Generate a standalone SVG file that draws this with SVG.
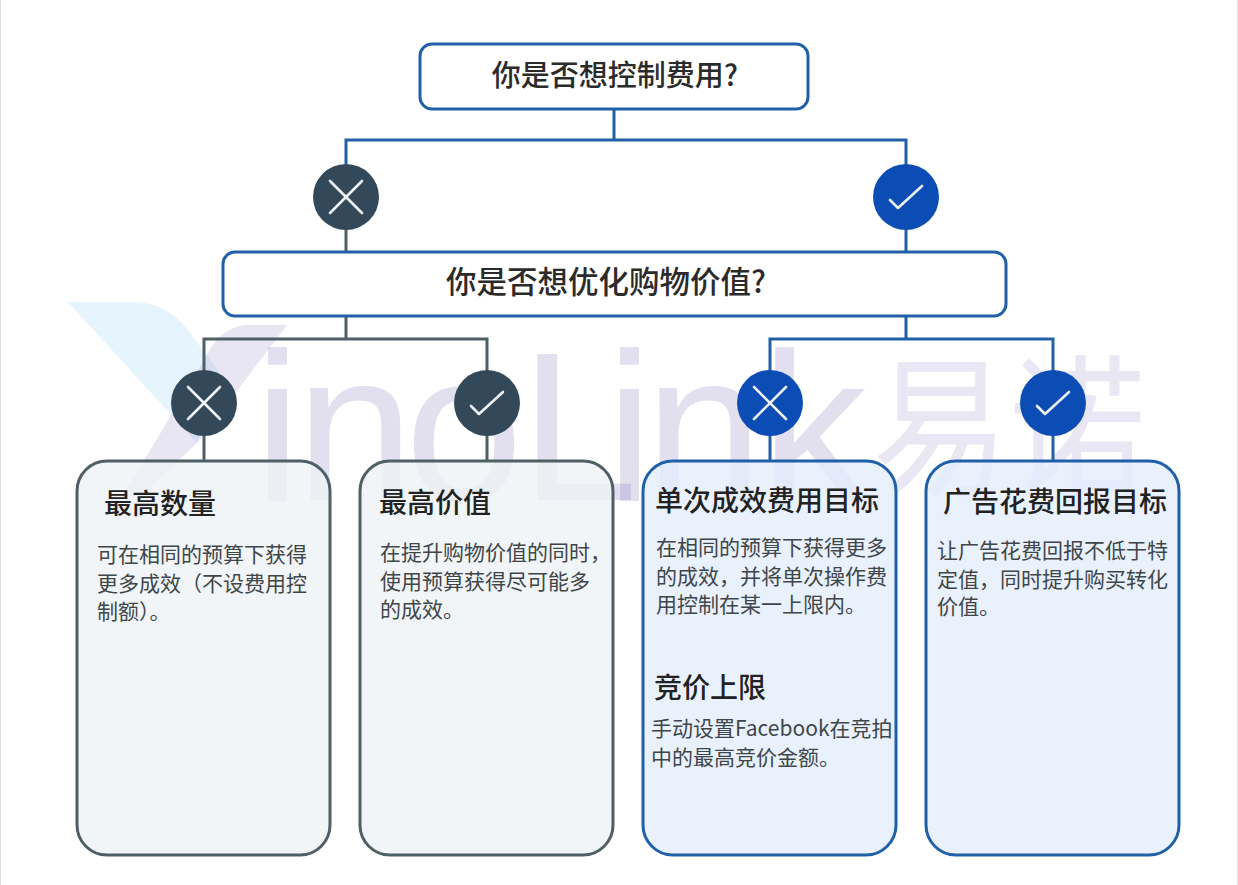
<svg xmlns="http://www.w3.org/2000/svg" width="1238" height="885" viewBox="0 0 1238 885">
<style>
text{font-family:"Noto Sans CJK SC","Liberation Sans",sans-serif}
.q{fill:#fff;stroke:#2060a8;stroke-width:3}
.t{font-weight:500;fill:#2b2b2b;text-anchor:middle}
.h{font-size:28px;font-weight:500;fill:#222}
.b{font-size:21px;fill:#3f464a}
.gc{fill:#eef2f5;fill-opacity:.8;stroke:#4f5f66;stroke-width:3}
.bc{fill:#e4eefd;fill-opacity:.8;stroke:#2060a8;stroke-width:3}
.lb{fill:none;stroke:#2060a8;stroke-width:3}
.lg{fill:none;stroke:#4f5f66;stroke-width:3}
.dg{fill:#33495a}
.db{fill:#0b4db5}
.i{fill:none;stroke:#eef3f8;stroke-width:2.6;stroke-linecap:round;stroke-linejoin:round}
.wm{fill:#7a6cb8;fill-opacity:.22}
</style>
<rect width="1238" height="885" fill="#fff"/>
<rect x="0" y="0" width="1" height="885" fill="#dcdcdc"/>
<rect x="1237" y="0" width="1" height="885" fill="#dcdcdc"/>
<g id="watermark">
<path d="M68 302H135Q165 302 188 330L225 380L197 443Z" fill="#e6f5fd"/>
<path d="M287 325H245Q218 328 203 362L122 497H140L197 443Z" fill="#7a6cb8" fill-opacity=".17"/>
<text class="wm" y="500" font-size="212" x="254 296 405 520 606 645 761" style="font-family:'Liberation Sans',sans-serif">inoLink</text>
<text class="wm" transform="translate(872,484) scale(1,1.12)" font-size="137" fill-opacity=".16" style="fill-opacity:.16">易诺</text>
</g>
<g id="connectors">
<path class="lb" d="M614 109V140M346 166V140H906V166M906 228V252"/>
<path class="lg" d="M346 228V252"/>
<path class="lg" d="M346 316V339M204 372V339H487V372M204 434V461M487 434V461"/>
<path class="lb" d="M906 316V339M770 372V339H1053V372M770 434V461M1053 434V461"/>
</g>
<g id="q1"><rect class="q" x="420" y="44" width="388" height="65" rx="12"/><text class="t" x="615" y="86" font-size="29">你是否想控制费用?</text></g>
<g id="c1"><circle class="dg" cx="346" cy="197" r="33"/><path class="i" d="M330 181L362 213M362 181L330 213"/></g>
<g id="c2"><circle class="db" cx="906" cy="197" r="33"/><path class="i" d="M890 200L898 208L922 186"/></g>
<g id="q2"><rect class="q" x="223" y="252" width="783" height="64" rx="12"/><text class="t" x="606" y="293" font-size="30.5">你是否想优化购物价值?</text></g>
<g id="c3"><circle class="dg" cx="204" cy="403" r="33"/><path class="i" d="M188 387L220 419M220 387L188 419"/></g>
<g id="c4"><circle class="dg" cx="487" cy="403" r="33"/><path class="i" d="M471 406L479 414L503 392"/></g>
<g id="c5"><circle class="db" cx="770" cy="403" r="33"/><path class="i" d="M754 387L786 419M786 387L754 419"/></g>
<g id="c6"><circle class="db" cx="1053" cy="403" r="33"/><path class="i" d="M1037 406L1045 414L1069 392"/></g>
<g id="card1"><rect class="gc" x="77" y="461" width="253" height="394" rx="30"/>
<text class="h" x="104" y="514">最高数量</text>
<text class="b" x="97" y="562">可在相同的预算下获得</text>
<text class="b" x="97" y="591">更多成效（不设费用控</text>
<text class="b" x="97" y="619">制额）。</text></g>
<g id="card2"><rect class="gc" x="360" y="461" width="253" height="394" rx="30"/>
<text class="h" x="379" y="513">最高价值</text>
<text class="b" x="380" y="560">在提升购物价值的同时，</text>
<text class="b" x="380" y="589">使用预算获得尽可能多</text>
<text class="b" x="380" y="617">的成效。</text></g>
<g id="card3"><rect class="bc" x="643" y="461" width="253" height="394" rx="30"/>
<text class="h" x="655" y="511">单次成效费用目标</text>
<text class="b" x="656" y="555">在相同的预算下获得更多</text>
<text class="b" x="656" y="584">的成效，并将单次操作费</text>
<text class="b" x="656" y="612">用控制在某一上限内。</text>
<text class="h" x="654" y="698">竞价上限</text>
<text class="b" x="651" y="736">手动设置Facebook在竞拍</text>
<text class="b" x="651" y="765">中的最高竞价金额。</text></g>
<g id="card4"><rect class="bc" x="926" y="461" width="253" height="394" rx="30"/>
<text class="h" x="943" y="512">广告花费回报目标</text>
<text class="b" x="937" y="558">让广告花费回报不低于特</text>
<text class="b" x="937" y="587">定值，同时提升购买转化</text>
<text class="b" x="937" y="614">价值。</text></g>
</svg>
